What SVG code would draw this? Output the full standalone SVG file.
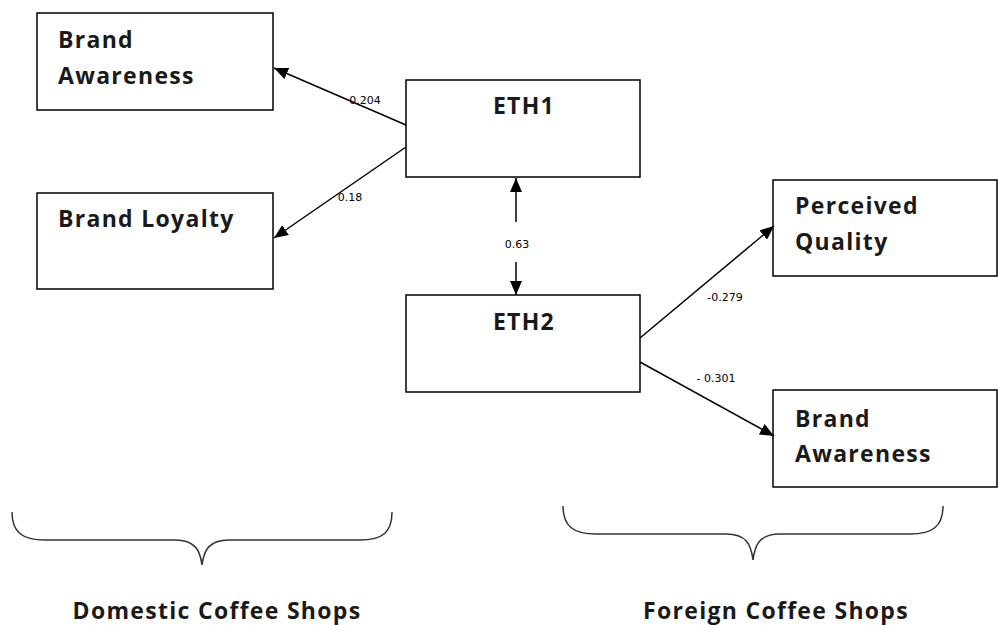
<svg xmlns="http://www.w3.org/2000/svg" width="998" height="625" viewBox="0 0 998 625">
<style>
.box{fill:#fff;stroke:#000;stroke-width:1.5}
.t{font-family:"Open Sans","Liberation Sans",sans-serif;font-weight:bold;font-size:23px;letter-spacing:1.3px;fill:#1a1a1a}
.lbl{font-family:"DejaVu Sans","Liberation Sans",sans-serif;font-size:11px;fill:#000}
.c{stroke:#000;stroke-width:1.5;fill:none}
.br{stroke:#333;stroke-width:1.5;fill:none}
.cap{font-family:"Open Sans","Liberation Sans",sans-serif;font-weight:bold;font-size:23px;letter-spacing:1.3px;fill:#1a1a1a}
</style>
<defs>
<marker id="ahb" viewBox="0 0 14 12" refX="14" refY="6" markerWidth="14" markerHeight="12" markerUnits="userSpaceOnUse" orient="auto"><path d="M0,0 L14,6 L0,12 z" fill="#000"/></marker>
</defs>
<rect width="998" height="625" fill="#fff"/>
<g id="n-ba1"><rect class="box" x="37" y="13" width="236" height="97"/><text class="t" x="58" y="48">Brand</text><text class="t" x="58" y="84">Awareness</text></g>
<g id="n-bl"><rect class="box" x="37" y="193" width="236" height="96"/><text class="t" x="58" y="227">Brand Loyalty</text></g>
<g id="n-eth1"><rect class="box" x="406" y="80" width="234" height="97"/><text class="t" x="524" y="114" text-anchor="middle">ETH1</text></g>
<g id="n-eth2"><rect class="box" x="406" y="295" width="234" height="97"/><text class="t" x="524" y="330" text-anchor="middle">ETH2</text></g>
<g id="n-pq"><rect class="box" x="773" y="180" width="224" height="96"/><text class="t" x="795" y="214">Perceived</text><text class="t" x="795" y="250">Quality</text></g>
<g id="n-ba2"><rect class="box" x="773" y="390" width="224" height="97"/><text class="t" x="795" y="427">Brand</text><text class="t" x="795" y="462">Awareness</text></g>
<g id="connectors">
<line class="c" x1="406" y1="125" x2="274" y2="68" marker-end="url(#ahb)"/>
<line class="c" x1="406" y1="147" x2="274" y2="238" marker-end="url(#ahb)"/>
<line class="c" x1="516" y1="222" x2="516" y2="178" marker-end="url(#ahb)"/>
<line class="c" x1="516" y1="262" x2="516" y2="295" marker-end="url(#ahb)"/>
<line class="c" x1="640" y1="338" x2="774" y2="226" marker-end="url(#ahb)"/>
<line class="c" x1="640" y1="362" x2="774" y2="436" marker-end="url(#ahb)"/>
<text class="lbl" x="365" y="104" text-anchor="middle">0.204</text>
<text class="lbl" x="350" y="201" text-anchor="middle">0.18</text>
<text class="lbl" x="517" y="248" text-anchor="middle">0.63</text>
<text class="lbl" x="725" y="301" text-anchor="middle">-0.279</text>
<text class="lbl" x="716" y="382" text-anchor="middle">- 0.301</text>
</g>
<g id="braces">
<path class="br" d="M12,512 C12,532 22,540 45,540 L175,540 C195,540 200,550 202,565 C204,550 209,540 229,540 L360,540 C383,540 392,532 392,512"/>
<path class="br" d="M563,506 C563,526 573,534 596,534 L726,534 C746,534 751,544 753,560 C755,544 760,534 780,534 L910,534 C933,534 943,526 943,506"/>
<text class="cap" x="217" y="619" text-anchor="middle">Domestic Coffee Shops</text>
<text class="cap" x="776" y="619" text-anchor="middle">Foreign Coffee Shops</text>
</g>
</svg>
